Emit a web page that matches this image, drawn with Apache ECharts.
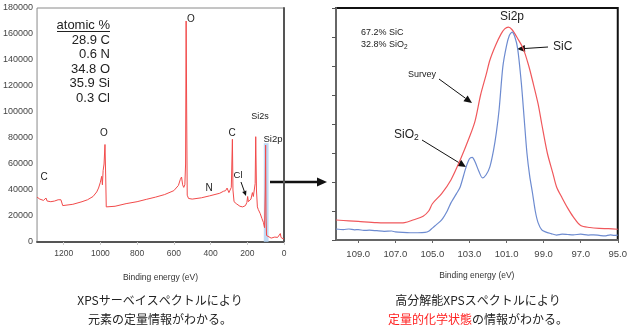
<!DOCTYPE html>
<html><head><meta charset="utf-8">
<script src="https://cdn.jsdelivr.net/npm/echarts@6/dist/echarts.min.js"></script>
<style>html,body{margin:0;padding:0;background:#fff}#c{width:630px;height:330px}</style>
</head><body><div id="c"></div>
<script>
// ---- Survey spectrum (left) ----
const surveyEnergy = [1345,1330,1310,1300,1296,1290,1270,1250,1230,1215,1208,1205,1195,1150,1100,1070,1040,1020,1010,1000,993,989,985,980,975,971,968,960,920,860,800,750,700,650,600,575,565,558,552,546,540,536,533,530,527,520,500,450,405,400,395,350,330,318,310,305,300,292,287,284,281,278,272,260,240,225,210,202,198,194,188,180,172,167,162,157,154,150,145,140,130,120,112,106,102,100,98,95,88,70,50,35,25,20,16,10,5,0];
const surveyCounts = [34500,33000,32000,32500,33800,31500,31000,31500,32500,32500,31500,28000,27500,29000,31000,32500,35000,38500,41500,46000,50500,44000,55000,60000,75000,50000,27000,26500,27500,29500,31000,32800,34500,36500,39500,43500,48000,50000,44000,42000,44000,60000,170000,100000,36000,33500,33000,34000,35500,36500,35500,37500,39000,39500,41500,43000,38000,37000,42000,60000,79000,40000,31000,29500,27500,27000,28000,30500,35000,31000,30000,33000,38000,35000,36000,45000,81000,40000,27000,25000,22000,18000,15000,11000,40000,74500,20000,5000,3500,3000,3800,3500,4500,6500,3500,4500,2500,2500];
const surveyXTicks = [1200,1000,800,600,400,200,0];
const surveyYTicks = [0,20000,40000,60000,80000,100000,120000,140000,160000,180000];
const atomicLabels = ['28.9 C','0.6 N','34.8 O','35.9 Si','0.3 Cl'];

// ---- High-resolution Si2p (right) ----
const hrSurveyEnergy = [110.2,109.5,109,108,107,106.5,106,105.5,105.2,105,104.5,104,103.5,103,102.7,102.4,102.1,101.9,101.6,101.3,101.1,100.9,100.7,100.4,100.1,99.8,99.6,99.3,99.1,98.8,98.5,98.3,98.0,97.7,97.4,97.0,96.5,96,95.5,95];
const hrSurveyIntensity = [0.69,0.66,0.64,0.6,0.59,0.6,0.7,0.82,1.0,1.25,1.6,2.07,2.76,3.55,4.1,5.0,5.7,6.2,6.7,7.1,7.28,7.34,7.25,6.95,6.6,6.0,5.5,4.7,4.0,3.0,2.3,1.83,1.45,1.1,0.8,0.5,0.43,0.4,0.39,0.37];
const hrComponentEnergy = [110.2,109.8,109.5,109.2,109,108.7,108.4,108,107.6,107.2,107,106.6,106.2,105.8,105.4,105.2,105,104.8,104.5,104.2,104,103.7,103.5,103.2,103.0,102.85,102.7,102.5,102.3,102.1,101.9,101.7,101.55,101.4,101.2,101.0,100.85,100.7,100.55,100.4,100.2,100.05,99.9,99.75,99.6,99.45,99.3,99.1,98.9,98.6,98.3,98.0,97.7,97.4,97.0,96.6,96.3,96.0,95.7,95.4,95.2,95.0];
const hrComponentIntensity = [0.38,0.36,0.38,0.35,0.36,0.33,0.34,0.32,0.3,0.31,0.28,0.26,0.25,0.25,0.26,0.3,0.41,0.52,0.69,1.0,1.28,1.6,1.83,2.48,2.8,2.85,2.7,2.38,2.14,2.25,2.52,3.1,3.7,4.5,5.97,6.7,7.05,7.17,7.0,6.6,5.4,4.2,3.0,2.2,1.62,1.0,0.6,0.35,0.28,0.22,0.17,0.2,0.19,0.18,0.2,0.17,0.18,0.16,0.14,0.18,0.16,0.17];
const hrXTicks = [109,107,105,103,101,99,97,95];

const zip = (a,b)=>a.map((v,i)=>[v,b[i]]);
const TXT = '#222';
const narrow = '"Liberation Sans Narrow", "Liberation Sans", Arial, sans-serif';
const sans = '"Liberation Sans", Arial, Helvetica, sans-serif';
const cjk = '"Noto Sans CJK JP", sans-serif';

function label(x,y,text,size,align,extra){
  return Object.assign({type:'text',x:x,y:y,z:100,style:{text:text,fontSize:size,fontFamily:sans,fill:TXT,align:align||'center',verticalAlign:'middle'}},extra||{});
}
function arrow(x1,y1,x2,y2,w,head){
  const dx=x2-x1, dy=y2-y1, L=Math.hypot(dx,dy), ux=dx/L, uy=dy/L;
  const hl=head||7, hw=hl*0.45;
  const bx=x2-ux*hl, by=y2-uy*hl;
  return {type:'group',z:100,children:[
    {type:'line',shape:{x1:x1,y1:y1,x2:bx,y2:by},style:{stroke:'#111',lineWidth:w||1}},
    {type:'polygon',shape:{points:[[x2,y2],[bx-uy*hw,by+ux*hw],[bx+uy*hw,by-ux*hw]]},style:{fill:'#111'}}
  ]};
}

const chart = echarts.init(document.getElementById('c'),null,{renderer:'canvas'});
const graphics = [
  label(110,25,'atomic %',13,'right'),
  {type:'line',z:100,shape:{x1:57,y1:31.5,x2:110,y2:31.5},style:{stroke:TXT,lineWidth:1}},
  ...atomicLabels.map((t,i)=>label(110,[40.5,54.5,69,83.5,98][i],t,13,'right')),
  label(104,133,'O',10),
  label(44,177,'C',10),
  label(191,19,'O',10),
  label(260,117,'Si2s',9),
  label(232,133,'C',10),
  label(273,139,'Si2p',9.5),
  label(209,188,'N',10),
  label(238,175,'Cl',9.5),
  arrow(241,182,246,196,1,5),
  // connector arrow between charts
  arrow(270,182,327,182,2.5,10),
  // right annotations
  label(361,33,'67.2% SiC',9,'left'),
  label(361,45,'32.8% SiO{s|2}',9,'left',{style:{text:'32.8% SiO{s|2}',fontSize:9,fontFamily:sans,fill:TXT,align:'left',verticalAlign:'middle',rich:{s:{fontSize:6.5,fontFamily:sans,fill:TXT,padding:[4,0,0,0]}}}}),
  label(408,75,'Survey',9,'left'),
  arrow(439,79,472,103,1,8),
  {type:'text',x:394,y:135,z:100,style:{text:'SiO{s|2}',fontSize:12,fontFamily:sans,fill:TXT,align:'left',verticalAlign:'middle',rich:{s:{fontSize:8.5,fontFamily:sans,fill:TXT,padding:[6,0,0,0]}}}},
  arrow(422,140,466,167,1,8),
  label(512,17,'Si2p',12),
  label(553,47,'SiC',12,'left'),
  arrow(548,47,517,49,1,8),
  // captions
  label(160,300,'XPSサーベイスペクトルにより',12,'center'),
  label(160,319,'元素の定量情報がわかる。',12,'center'),
  label(478,300,'高分解能XPSスペクトルにより',12,'center'),
  {type:'text',x:478,y:319,z:100,style:{text:'{r|定量的化学状態}の情報がわかる。',fontSize:12,fontFamily:cjk,fill:TXT,align:'center',verticalAlign:'middle',rich:{r:{fontSize:12,fontFamily:cjk,fill:'#ff2020'}}}}
];
graphics.forEach(g=>{ if(g.type==='text' && g.style && /[ぁ-んァ-ン一-龥]/.test(g.style.text)) g.style.fontFamily=cjk; });

chart.setOption({
  animation:false,
  backgroundColor:'#fff',
  grid:[
    {left:29,top:8,width:255,height:234,show:true,borderColor:'#8a8a8a',borderWidth:1,backgroundColor:'transparent'},
    {left:336,top:8,width:282,height:232,show:true,borderColor:'#111',borderWidth:2,backgroundColor:'transparent'}
  ],
  xAxis:[
    {gridIndex:0,type:'value',min:0,max:1345,interval:200,inverse:true,
     name:'Binding energy (eV)',nameLocation:'middle',nameGap:31,
     nameTextStyle:{fontSize:8.5,fontFamily:narrow,color:'#333'},
     axisLine:{lineStyle:{color:'#555',width:2}},
     axisTick:{show:true,length:3,lineStyle:{color:'#ccc'}},
     axisLabel:{fontSize:8.5,fontFamily:narrow,color:'#444',margin:7,showMaxLabel:false,
       formatter:v=>surveyXTicks.includes(v)?String(v):''},
     splitLine:{show:false}},
    {gridIndex:1,type:'value',min:95,max:110.2,interval:2,inverse:true,
     name:'Binding energy (eV)',nameLocation:'middle',nameGap:31,
     nameTextStyle:{fontSize:8.5,fontFamily:narrow,color:'#333'},
     axisLine:{lineStyle:{color:'#666',width:2}},
     axisTick:{show:true,length:3,lineStyle:{color:'#666'}},
     axisLabel:{fontSize:9.5,fontFamily:narrow,color:'#444',margin:9,showMaxLabel:false,
       formatter:v=>hrXTicks.includes(v)?v.toFixed(1):''},
     splitLine:{show:false}}
  ],
  yAxis:[
    {gridIndex:0,type:'value',min:0,max:180000,interval:20000,
     axisLine:{show:true,lineStyle:{color:'#555',width:2}},
     axisTick:{show:false},
     axisLabel:{fontSize:9,fontFamily:narrow,color:'#444',margin:4,
       formatter:v=>surveyYTicks.includes(v)?String(v):''},
     splitLine:{show:false}},
    {gridIndex:1,type:'value',min:0,max:8,interval:1,
     axisLine:{show:true,lineStyle:{color:'#666',width:2}},
     axisTick:{show:true,length:4,lineStyle:{color:'#555'}},
     axisLabel:{show:false},
     splitLine:{show:false}}
  ],
  series:[
    {type:'line',xAxisIndex:0,yAxisIndex:0,data:zip(surveyEnergy,surveyCounts),showSymbol:false,
     lineStyle:{color:'#f24a4a',width:1},
     markArea:{silent:true,itemStyle:{color:'rgba(170,204,240,0.75)'},data:[[{xAxis:110,yAxis:0},{xAxis:84,yAxis:76000}]]}},
    {type:'line',xAxisIndex:1,yAxisIndex:1,data:zip(hrSurveyEnergy,hrSurveyIntensity),showSymbol:false,smooth:0.3,
     lineStyle:{color:'#f0585c',width:1.2}},
    {type:'line',xAxisIndex:1,yAxisIndex:1,data:zip(hrComponentEnergy,hrComponentIntensity),showSymbol:false,smooth:0.25,
     lineStyle:{color:'#6d8bd0',width:1.2}}
  ],
  graphic:graphics
});
</script></body></html>
